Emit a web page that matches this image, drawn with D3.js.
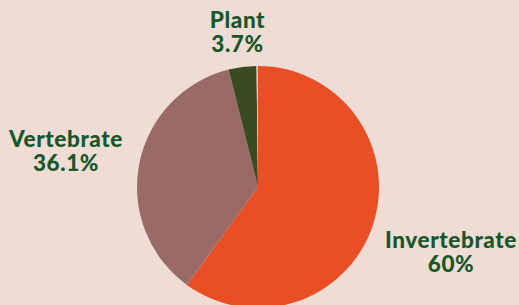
<!DOCTYPE html>
<html><head><meta charset="utf-8">
<script src="https://cdn.jsdelivr.net/npm/d3@7"></script>
<style>html,body{margin:0;padding:0;background:#EFDCD4;}svg{display:block}</style>
</head><body>
<svg id="c" width="519" height="305"></svg>
<script>
const categories = ["Invertebrate", "Vertebrate", "Plant", "Other"];
const values = [60, 36.1, 3.7, 0.2];
const valueLabels = ["60%", "36.1%", "3.7%", ""];
const colors = ["#EA4E24", "#9A6A66", "#3A4A22", "#D9C4C0"];

const svg = d3.select("#c");
const cx = 258, cy = 187, r = 121;
const pie = d3.pie().sort(null).value(d => d)(values);
const arc = d3.arc().innerRadius(0).outerRadius(r);
const g = svg.append("g").attr("transform", `translate(${cx},${cy})`);
g.selectAll("path").data(pie).join("path")
  .attr("d", arc).attr("fill", (d, i) => colors[i]);

const labelPos = [[451, 248], [66, 147], [237.5, 27.5]];
const lt = svg.append("g").attr("font-family", "Lato, sans-serif")
  .attr("font-weight", 900).attr("font-size", 22.5).attr("fill", "#17572A")
  .attr("text-anchor", "middle").attr("letter-spacing", 0.6);
labelPos.forEach((p, i) => {
  lt.append("text").attr("x", p[0]).attr("y", p[1]).text(categories[i]);
  lt.append("text").attr("x", p[0]).attr("y", p[1] + 24).text(valueLabels[i]);
});
</script>
</body></html>
